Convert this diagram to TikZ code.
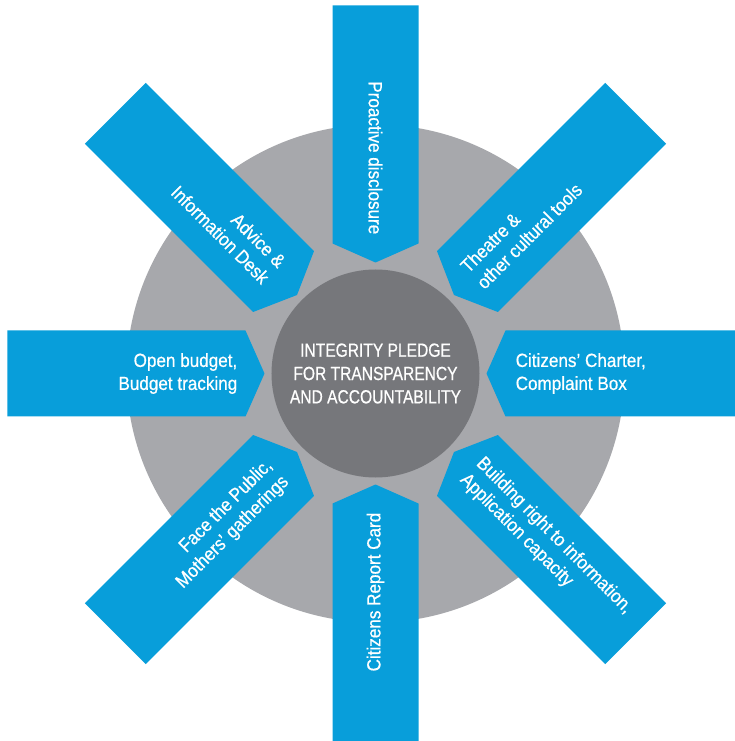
\documentclass[tikz,border=0pt]{standalone}
\usepackage{fontspec}
\setmainfont[FakeStretch=0.9, FakeBold=0.6]{Liberation Sans}
\newfontfamily\pledgefont[FakeStretch=0.82, FakeBold=0.6]{Liberation Sans}
\definecolor{armblue}{RGB}{8,158,218}
\definecolor{ringgray}{RGB}{167,168,172}
\definecolor{hubgray}{RGB}{118,119,123}
\tikzset{
  armtext/.style={text=white, inner sep=0pt, font=\fontsize{19}{23}\selectfont},
}
\begin{document}
\begin{tikzpicture}[x=1pt, y=1pt]
    \useasboundingbox (-375.5, -367.5) rectangle (359.5, 373.5);
    \clip (-375.5, -367.5) rectangle (359.5, 373.5);

    % Ring
    \fill [ringgray] (0, 0) circle (249);

    % Arms
    \foreach \a in {0, 45, ..., 315}
      \fill [armblue, rotate=\a] (111, 0) -- (130, 43) -- (368, 43) -- (368, -43) -- (130, -43) -- cycle;

    % Hub
    \node (hub) [circle, fill=hubgray, minimum size=208, inner sep=0pt, text=white, align=center,
      font=\pledgefont\fontsize{19}{23.3}\selectfont] at (0, 0)
      {INTEGRITY PLEDGE\\FOR TRANSPARENCY\\AND ACCOUNTABILITY};

    % Labels
    \node (charter) [armtext, anchor=west, align=left] at (140, 0) {Citizens’ Charter,\\Complaint Box};
    \node (theatre) [armtext, anchor=west, align=left, rotate=45] at (45:136) {Theatre \&\\other cultural tools};
    \node (disclosure) [armtext, anchor=east, rotate=-90] at (90:139) {Proactive disclosure};
    \node (advice) [armtext, anchor=east, align=right, rotate=-45] at (135:143) {Advice \&\\Information Desk};
    \node (budget) [armtext, anchor=east, align=right] at (180:138) {Open budget,\\Budget tracking};
    \node (public) [armtext, anchor=east, align=right, rotate=45] at (225:138) {Face the Public,\\Mothers’ gatherings};
    \node (report) [armtext, anchor=east, rotate=90] at (270:139) {Citizens Report Card};
    \node (rti) [armtext, anchor=west, align=left, rotate=-45] at (315:135) {Building right to information,\\Application capacity};
  \end{tikzpicture}
\end{document}
